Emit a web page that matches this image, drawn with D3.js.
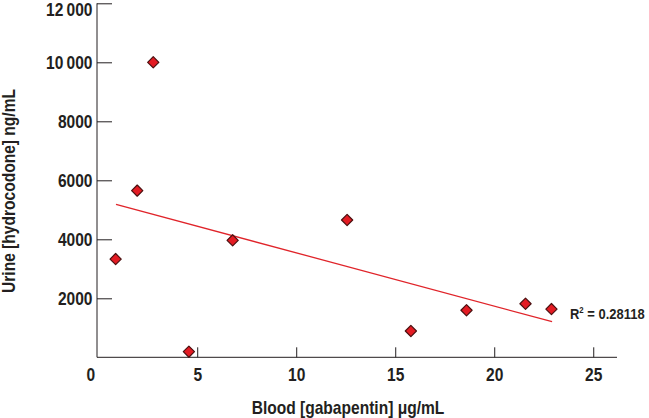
<!DOCTYPE html>
<html>
<head>
<meta charset="utf-8">
<script src="https://cdn.jsdelivr.net/npm/d3@7"></script>
<style>
  html, body { margin: 0; padding: 0; background: #fff; }
  svg { display: block; }
  text { font-family: "Liberation Sans", Arial, sans-serif; fill: #231f20; font-weight: bold; }
</style>
</head>
<body>
<svg id="chart" width="649" height="418"></svg>
<script>
// Data
const bloodGabapentin = [0.88, 1.97, 2.78, 4.58, 6.79, 12.57, 15.79, 18.60, 21.58, 22.89];
const urineHydrocodone = [3330, 5650, 10000, 190, 3965, 4655, 890, 1595, 1815, 1635];
const trendX = [0.9, 22.92];
const trendY = [5186, 1207];
const xTicks = [0, 5, 10, 15, 20, 25];
const yTicks = [2000, 4000, 6000, 8000, 10000, 12000];
const yTickLabels = ["2000", "4000", "6000", "8000", "10\u2009000", "12\u2009000"];
const r2Label = "0.28118";

const NARROW = 0.865; // emulate a narrow typeface

const svg = d3.select("#chart");
const x = d3.scaleLinear().domain([0, 26.2]).range([98.2, 617]);
const y = d3.scaleLinear().domain([0, 12000]).range([357.3, 3.3]);

// X axis (ticks pointing inward)
const xAxis = svg.append("g").attr("transform", `translate(0,${y(0)})`)
  .call(d3.axisTop(x).tickValues(xTicks).tickSize(10).tickSizeOuter(0).tickFormat(d3.format("d")));
xAxis.select(".domain").attr("d", `M${x(0) - 1.2},0H${x(26.2)}`).attr("stroke", "#231f20");
xAxis.selectAll(".tick line").attr("stroke", "#231f20");
xAxis.selectAll(".tick text")
  .attr("x", 0).attr("y", 0).attr("dy", "0.71em")
  .attr("transform", d => `translate(${d === 0 ? -8 : 0},11) scale(${NARROW},1)`)
  .attr("font-size", 18)
  .attr("fill", "#231f20");
xAxis.selectAll(".tick").filter(d => d === 0).select("line").remove();

// Y axis (ticks pointing inward)
const yAxis = svg.append("g").attr("transform", `translate(${x(0) - 1.2},0)`)
  .call(d3.axisRight(y).tickValues(yTicks).tickSize(15).tickSizeOuter(0)
    .tickFormat((d, i) => yTickLabels[i]));
yAxis.select(".domain").attr("d", `M0,${y(0)}V${y(12000)}`).attr("stroke", "#231f20");
yAxis.selectAll(".tick line").attr("stroke", "#231f20");
yAxis.selectAll(".tick text")
  .attr("x", 0).attr("text-anchor", "end").attr("dy", "0.35em")
  .attr("transform", d => `translate(-4.5,${d === 12000 ? 5.5 : 0}) scale(${NARROW},1)`)
  .attr("font-size", 18)
  .attr("fill", "#231f20");

// Trend line
svg.append("line")
  .attr("x1", x(trendX[0])).attr("y1", y(trendY[0]))
  .attr("x2", x(trendX[1])).attr("y2", y(trendY[1]))
  .attr("stroke", "#e0242a").attr("stroke-width", 1.3);

// Points: diamonds
const pts = bloodGabapentin.map((v, i) => ({ x: v, y: urineHydrocodone[i] }));
svg.append("g").selectAll("path").data(pts).join("path")
  .attr("transform", d => `translate(${x(d.x)},${y(d.y)})`)
  .attr("d", "M0,-5.6L5.6,0L0,5.6L-5.6,0Z")
  .attr("fill", "#e31b23")
  .attr("stroke", "#4a1010")
  .attr("stroke-width", 1.2)
  .attr("stroke-linejoin", "round");

// R^2 label
const r2 = svg.append("text")
  .attr("transform", `translate(570,319) scale(${NARROW},1)`)
  .attr("font-size", 15);
r2.append("tspan").text("R");
r2.append("tspan").attr("font-size", 9).attr("dy", -6).text("2");
r2.append("tspan").attr("dy", 6).text(" = " + r2Label);

// Axis titles
svg.append("text")
  .attr("transform", `translate(348,414) scale(${NARROW},1)`)
  .attr("text-anchor", "middle").attr("font-size", 18)
  .text("Blood [gabapentin] \u03bcg/mL");
svg.append("text")
  .attr("transform", `translate(15,191) rotate(-90) scale(${NARROW},1)`)
  .attr("text-anchor", "middle").attr("font-size", 18)
  .text("Urine [hydrocodone] ng/mL");
</script>
</body>
</html>
